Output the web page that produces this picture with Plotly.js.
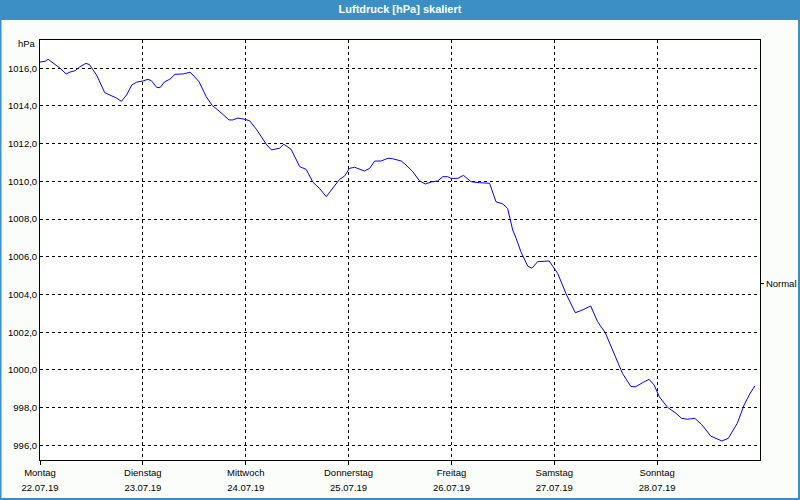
<!DOCTYPE html>
<html>
<head>
<meta charset="utf-8">
<script src="https://cdn.plot.ly/plotly-3.0.1.min.js"></script>
<style>html,body{margin:0;padding:0;background:#fbfdfb;}#chart{width:800px;height:500px;}</style>
</head>
<body>
<div id="chart"></div>
<script>
// Hours since Montag 22.07.19 00:00
const hours = [0, 1.2, 1.9, 3.5, 4.7, 6.1, 7.0, 8.2, 9.3, 10.7, 11.5, 13.2, 14.1, 15.1, 16.3, 17.7, 19.0, 20.2, 21.4, 22.5,
  24.1, 25.2, 26.0, 27.2, 28.0, 29.1, 30.3, 31.5, 33.4, 35.0, 35.7, 37.1, 38.8, 40.2, 41.5, 43.1, 44.1, 45.0, 46.2, 47.4,
  48.9, 50.5, 52.0, 52.8, 54.0, 55.9, 56.9, 58.6, 60.6, 62.1, 63.7, 65.2, 66.8, 68.3, 69.9, 71.1,
  72.2, 73.4, 75.7, 76.9, 78.1, 79.6, 81.2, 82.3, 84.3, 85.4, 87.0, 88.5, 89.9, 91.3, 92.8, 94.0, 95.1,
  95.9, 97.5, 98.8, 100.6, 102.5, 104.9, 106.4, 108.0, 109.1, 110.3, 111.1, 112.2, 113.8, 114.8, 116.1, 118.8,
  120.8, 122.7, 124.9, 126.6, 128.5, 130.1, 131.9, 134.0, 135.9, 137.9, 139.0, 140.6, 142.1, 143.3,
  144.5, 146.4, 148.4, 149.7, 151.1, 152.8, 154.5, 156.5, 159.1, 160.6, 162.7, 164.3, 165.6, 166.8];
const pressure = [1016.33, 1016.37, 1016.48, 1016.23, 1016.00, 1015.70, 1015.80, 1015.87, 1016.08, 1016.26, 1016.20, 1015.64, 1015.20, 1014.71, 1014.58, 1014.44, 1014.25, 1014.58, 1015.11, 1015.26,
  1015.33, 1015.42, 1015.34, 1014.99, 1014.97, 1015.29, 1015.42, 1015.68, 1015.70, 1015.79, 1015.64, 1015.29, 1014.49, 1014.02, 1013.79, 1013.43, 1013.26, 1013.26, 1013.36, 1013.31,
  1013.22, 1012.76, 1012.20, 1011.97, 1011.67, 1011.76, 1011.97, 1011.70, 1010.78, 1010.64, 1009.95, 1009.63, 1009.19, 1009.63, 1010.11, 1010.29,
  1010.69, 1010.75, 1010.55, 1010.69, 1011.08, 1011.08, 1011.23, 1011.20, 1011.08, 1010.87, 1010.51, 1010.04, 1009.86, 1009.97, 1010.02, 1010.25, 1010.25,
  1010.16, 1010.16, 1010.32, 1009.98, 1009.93, 1009.90, 1008.92, 1008.80, 1008.57, 1007.42, 1006.98, 1006.27, 1005.51, 1005.39, 1005.74, 1005.78,
  1005.12, 1004.06, 1003.03, 1003.18, 1003.39, 1002.56, 1001.97, 1000.88, 999.82, 999.11, 999.11, 999.32, 999.50, 999.20,
  998.58, 998.02, 997.70, 997.43, 997.38, 997.43, 997.08, 996.49, 996.23, 996.37, 997.17, 998.14, 998.72, 999.15];
const dayNames = ['Montag', 'Dienstag', 'Mittwoch', 'Donnerstag', 'Freitag', 'Samstag', 'Sonntag'];
const dayDates = ['22.07.19', '23.07.19', '24.07.19', '25.07.19', '26.07.19', '27.07.19', '28.07.19'];
const dayHours = [0, 24, 48, 72, 96, 120, 144];
const normalValue = [1004.6];
const normalLabel = ['Normal'];
const titleText = 'Luftdruck [hPa] skaliert';
const unitText = 'hPa';

const W = 800, H = 500, L = 40, R = 40, T = 40, B = 40;
const pw = W - L - R, ph = H - T - B;
const fx = px => (px - L) / pw;
const fy = py => (H - B - py) / ph;

const FONT = 'Liberation Sans, Arial, sans-serif';
const blue = '#3b8fc4';
const xr = [0, 168];
const yr = [995.22, 1017.5];

const trace = {
  x: hours, y: pressure, type: 'scatter', mode: 'lines',
  line: {color: '#0000ff', width: 1}, hoverinfo: 'skip', showlegend: false
};
const dummy = {x: [0], y: [1004.6], xaxis: 'x2', yaxis: 'y2', mode: 'markers', marker: {opacity: 0}, showlegend: false, hoverinfo: 'skip'};

const layout = {
  width: W, height: H,
  margin: {l: L, r: R, t: T, b: B, pad: 0},
  paper_bgcolor: '#fbfdfb', plot_bgcolor: '#ffffff',
  separators: ',.',
  font: {family: FONT, size: 9.5, color: '#000'},
  title: {text: '<b>' + titleText + '</b>', font: {family: FONT, size: 11, color: '#ffffff'},
    x: 0.5, xanchor: 'center', xref: 'paper', y: 1 - 9.5 / H, yanchor: 'middle', yref: 'container'},
  xaxis: {
    range: xr, tickvals: dayHours, ticktext: dayNames, ticks: 'outside', ticklen: 4, tickcolor: '#000',
    showline: true, linecolor: '#000', linewidth: 1, mirror: true,
    showgrid: true, gridcolor: '#000', gridwidth: 1, griddash: 'dot', zeroline: false,
    tickfont: {family: FONT, size: 9.5, color: '#000'}, fixedrange: true
  },
  xaxis2: {
    overlaying: 'x', anchor: 'y', side: 'bottom', range: xr, tickvals: dayHours, ticktext: dayDates,
    ticks: '', showline: false, showgrid: false, zeroline: false, ticklabelstandoff: 20,
    tickfont: {family: FONT, size: 9.5, color: '#000'}, fixedrange: true
  },
  yaxis: {
    range: yr, tick0: 996, dtick: 2, tickformat: '.1f', ticks: '',
    showline: true, linecolor: '#000', linewidth: 1, mirror: true,
    showgrid: true, gridcolor: '#000', gridwidth: 1, griddash: 'dot', zeroline: false,
    tickfont: {family: FONT, size: 9.5, color: '#000'}, fixedrange: true
  },
  yaxis2: {
    overlaying: 'y', anchor: 'x', side: 'right', range: yr, tickvals: normalValue, ticktext: normalLabel,
    ticks: 'outside', ticklen: 3, tickcolor: '#000', showline: false, showgrid: false, zeroline: false,
    tickfont: {family: FONT, size: 9.5, color: '#000'}, fixedrange: true
  },
  shapes: [
    {type: 'rect', xref: 'paper', yref: 'paper', x0: fx(0), x1: fx(W), y0: fy(20), y1: fy(0), fillcolor: blue, line: {width: 0}, layer: 'below'},
    {type: 'rect', xref: 'paper', yref: 'paper', x0: fx(0), x1: fx(1.5), y0: fy(H), y1: fy(0), fillcolor: blue, line: {width: 0}},
    {type: 'rect', xref: 'paper', yref: 'paper', x0: fx(W - 2), x1: fx(W), y0: fy(H), y1: fy(0), fillcolor: blue, line: {width: 0}},
    {type: 'rect', xref: 'paper', yref: 'paper', x0: fx(0), x1: fx(W), y0: fy(H), y1: fy(H - 2), fillcolor: blue, line: {width: 0}}
  ],
  annotations: [
    {text: unitText, xref: 'paper', yref: 'paper', x: fx(38), y: fy(44), xanchor: 'right', yanchor: 'middle',
      showarrow: false, font: {family: FONT, size: 9.5, color: '#000'}}
  ]
};

Plotly.newPlot('chart', [trace, dummy], layout, {displayModeBar: false, staticPlot: true});
</script>
</body>
</html>
